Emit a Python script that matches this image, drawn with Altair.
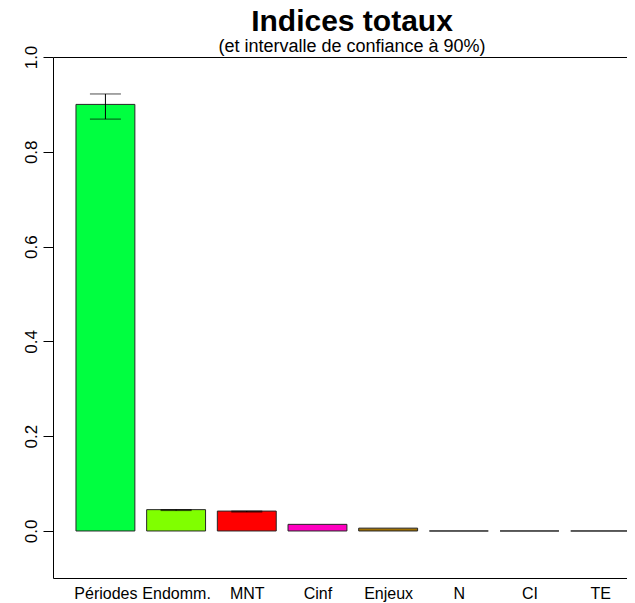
import altair as alt
import pandas as pd

categories = ["Périodes", "Endomm.", "MNT", "Cinf", "Enjeux", "N", "CI", "TE"]
values = [0.900, 0.045, 0.042, 0.014, 0.006, 0.0, 0.0, 0.0]
ci_low = [0.869, 0.043, 0.040, None, None, None, None, None]
ci_high = [0.922, 0.045, 0.042, None, None, None, None, None]
colors = ["#00FF40", "#80FF00", "#FF0000", "#FF00C0", "#A07000", "#FFFFFF", "#FFFFFF", "#FFFFFF"]
y_ticks = [0.0, 0.2, 0.4, 0.6, 0.8, 1.0]

# R barplot geometry: width 1, space 0.2
lefts = [0.2 + 1.2 * i for i in range(len(categories))]
df = pd.DataFrame({
    "cat": categories,
    "value": values,
    "lo": ci_low,
    "hi": ci_high,
    "color": colors,
    "left": lefts,
    "right": [l + 1.0 for l in lefts],
    "center": [l + 0.5 for l in lefts],
})
centers = [l + 0.5 for l in lefts]

FONT = "Liberation Sans"
label_list = "[" + ",".join("'" + c + "'" for c in categories) + "]"

xscale = alt.Scale(domain=[-0.19, 9.555], nice=False, zero=False)
yscale = alt.Scale(domain=[-0.0992, 1.0], nice=False, zero=False)

yaxis = alt.Axis(values=y_ticks, format=".1f", labelAngle=270, grid=False,
                 domainColor="#000000", tickColor="#000000", tickSize=10,
                 labelFont=FONT, labelFontSize=17, labelColor="#000000",
                 labelPadding=3, labelFlush=False, labelBound=False, title=None)

base = alt.Chart(df)

bars = base.mark_rect(stroke="#262626", strokeWidth=1).encode(
    x=alt.X("left:Q", scale=xscale,
            axis=alt.Axis(values=centers, labelExpr=label_list + "[round((datum.value-0.7)/1.2)]",
                          ticks=False, grid=False, domainColor="#000000", domainWidth=1,
                          labelFont=FONT, labelFontSize=16, labelColor="#000000",
                          labelPadding=7, labelOverlap=False, labelFlush=False, labelBound=False,
                          title=None)),
    x2="right:Q",
    y=alt.Y("value:Q", scale=yscale, axis=yaxis),
    y2=alt.datum(0),
    color=alt.Color("color:N", scale=None),
)

top_line = base.mark_rect(opacity=0).encode(
    x=alt.X("left:Q", scale=xscale,
            axis=alt.Axis(orient="top", labels=False, ticks=False, grid=False,
                          domainColor="#000000", domainWidth=1, title=None)),
    y=alt.Y("value:Q", scale=yscale, axis=yaxis),
)

eb = base.transform_filter("isValid(datum.lo)")
err_rule = eb.mark_rule(color="#000000", strokeWidth=1).encode(
    x=alt.X("center:Q", scale=xscale, axis=None),
    y=alt.Y("lo:Q", scale=yscale, axis=yaxis),
    y2="hi:Q",
)
cap_lo = eb.mark_tick(color="#000000", orient="horizontal", size=31, thickness=1).encode(
    x=alt.X("center:Q", scale=xscale, axis=None),
    y=alt.Y("lo:Q", scale=yscale, axis=yaxis),
)
cap_hi = eb.mark_tick(color="#000000", orient="horizontal", size=31, thickness=1).encode(
    x=alt.X("center:Q", scale=xscale, axis=None),
    y=alt.Y("hi:Q", scale=yscale, axis=yaxis),
)

chart = alt.layer(bars, top_line, err_rule, cap_lo, cap_hi).resolve_axis(
    x="independent"
).properties(
    width=574,
    height=521,
    padding={"left": 45, "top": 49, "right": 0, "bottom": 25},
    autosize=alt.AutoSizeParams(type="none"),
    title=alt.TitleParams(
        text="Indices totaux",
        subtitle="(et intervalle de confiance à 90%)",
        font=FONT, fontSize=30, fontWeight="bold", color="#000000",
        subtitleFont=FONT, subtitleFontSize=18, subtitleColor="#000000",
        anchor="middle", dx=12, offset=-11, subtitlePadding=1,
    ),
    background="#FFFFFF",
).configure_view(stroke=None)

chart.save("out.html", embed_options={"renderer": "svg", "actions": False})
